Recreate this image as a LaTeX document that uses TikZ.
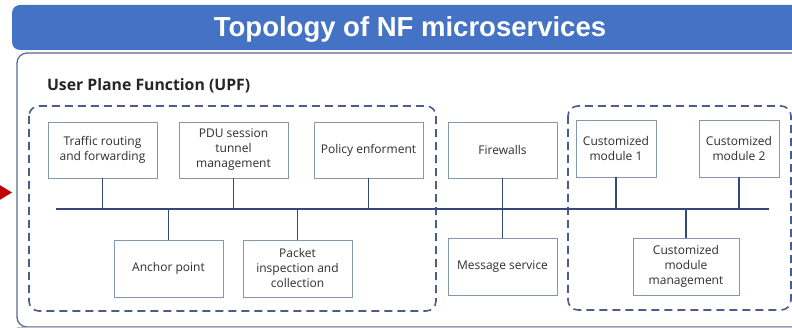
\documentclass[tikz,border=0pt]{standalone}
\usepackage{fontspec}
\setmainfont{Open Sans}
\newfontfamily\titlefont{Liberation Sans}
\begin{document}
\begin{tikzpicture}[x=1pt,y=-1pt,
  every node/.style={inner sep=0pt, outer sep=0pt},
  svc/.style={draw=boxedge, line width=0.9pt, fill=white, align=center,
    font=\fontsize{12}{15}\selectfont, text=txt},
  bus/.style={draw=busline, line width=1.4pt},
  group/.style={draw=grpedge, line width=1.6pt, dash pattern=on 8pt off 5pt, rounded corners=10pt}]
\definecolor{titleblue}{HTML}{4472C4}
\definecolor{boxedge}{HTML}{8497B0}
\definecolor{busline}{HTML}{34497A}
\definecolor{grpedge}{HTML}{4A5D8C}
\definecolor{outeredge}{HTML}{5A6A8C}
\definecolor{txt}{HTML}{2E2E2E}
\definecolor{arrowred}{HTML}{C00000}
\useasboundingbox (0,0) rectangle (792,328);
\clip (0,0) rectangle (792,328);

% heading bar
\fill[titleblue, rounded corners=8pt] (12,5) rectangle (810,50);
\node[text=white, font=\titlefont\bfseries\fontsize{27.5}{30}\selectfont] (title) at (410,29) {Topology of NF microservices};

% outer panel
\draw[outeredge, line width=1.3pt, fill=white, rounded corners=10pt] (17,53) rectangle (820,327);
\draw[gray!50, line width=0.8pt] (17,327.3) -- (792,327.3);

% entry arrow
\fill[arrowred] (-2,184) -- (12,192.5) -- (-2,201) -- cycle;

\node[anchor=west, font=\bfseries\fontsize{15.8}{18}\selectfont, text=black!85] (upf) at (47,86) {User Plane Function (UPF)};

% grouping frames
\draw[group] (29,106) rectangle (436,311);
\draw[group] (568,106) rectangle (791,310);

% services
\node[svc, minimum width=109pt, minimum height=56pt] (trf) at (102.5,150) {Traffic routing\\and forwarding};
\node[svc, minimum width=109pt, minimum height=56pt] (pdu) at (233.5,150) {PDU session\\tunnel\\management};
\node[svc, minimum width=109pt, minimum height=56pt] (pol) at (368.5,150) {Policy enforment};
\node[svc, minimum width=109pt, minimum height=56pt] (fw) at (502.5,150) {Firewalls};
\node[svc, minimum width=80pt, minimum height=57pt] (cm1) at (616,148.5) {Customized\\module 1};
\node[svc, minimum width=80pt, minimum height=57pt] (cm2) at (739,148.5) {Customized\\module 2};
\node[svc, minimum width=109pt, minimum height=57pt] (anc) at (168.5,268.5) {Anchor point};
\node[svc, minimum width=109pt, minimum height=57pt] (pkt) at (297.5,268.5) {Packet\\inspection and\\collection};
\node[svc, minimum width=109pt, minimum height=57pt] (msg) at (502.5,266.5) {Message service};
\node[svc, minimum width=106pt, minimum height=57pt] (cmm) at (686,266.5) {Customized\\module\\management};

% shared bus
\coordinate (busL) at (56,209);
\coordinate (busR) at (769,209);
\draw[bus] (busL) -- (busR);
\foreach \n in {trf,pdu,pol,fw,cm1,cm2}
  \draw[bus] (\n.south) -- (\n.south |- busL);
\foreach \n in {anc,pkt,msg,cmm}
  \draw[bus] (\n.north) -- (\n.north |- busL);
\end{tikzpicture}
\end{document}
